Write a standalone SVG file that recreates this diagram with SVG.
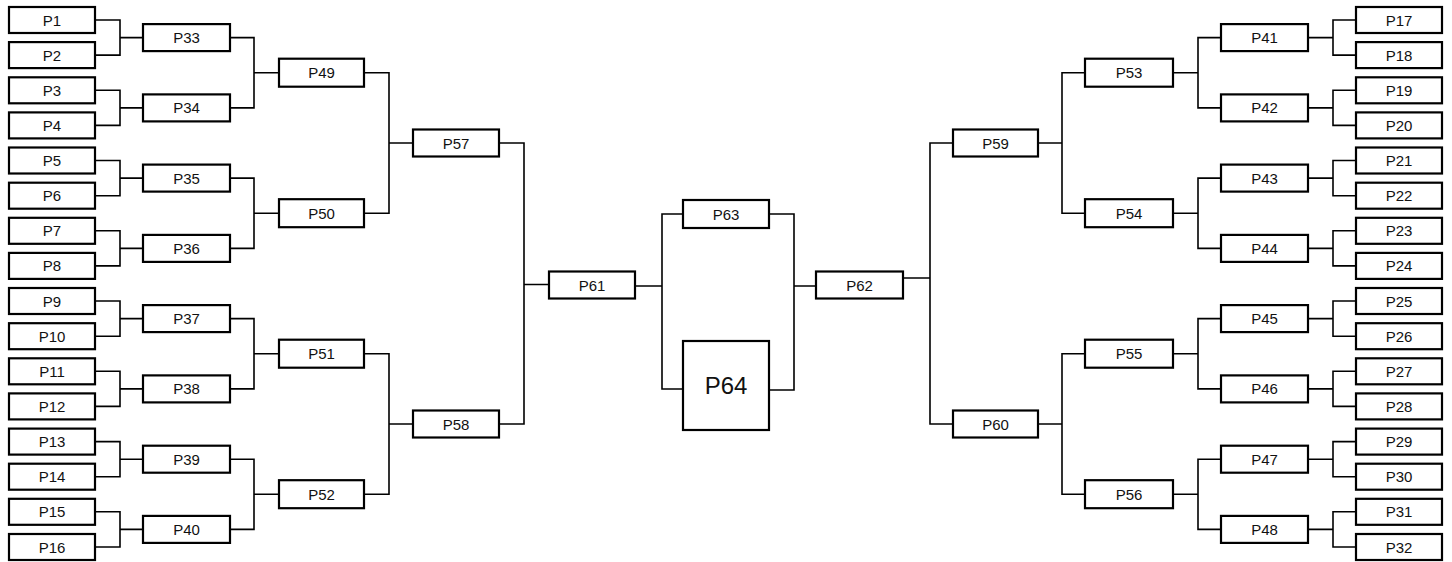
<svg xmlns="http://www.w3.org/2000/svg" width="1452" height="562" viewBox="0 0 1452 562">
<style>
.b{fill:#fff;stroke:#000;stroke-width:2.2}
.c{fill:none;stroke:#000;stroke-width:1.6}
text{font-family:"Liberation Sans",Arial,sans-serif;font-size:15px;text-anchor:middle;fill:#111}
.big{font-size:24px}
</style>
<rect width="1452" height="562" fill="#fff"/>
<g id="connectors" class="c">
<path d="M95,20 H120 V55.1 H95 M120,37.6 H143"/>
<path d="M95,90.3 H120 V125.4 H95 M120,107.9 H143"/>
<path d="M95,160.5 H120 V195.7 H95 M120,178.1 H143"/>
<path d="M95,230.8 H120 V265.9 H95 M120,248.4 H143"/>
<path d="M95,301 H120 V336.2 H95 M120,318.6 H143"/>
<path d="M95,371.3 H120 V406.4 H95 M120,388.9 H143"/>
<path d="M95,441.6 H120 V476.7 H95 M120,459.2 H143"/>
<path d="M95,511.8 H120 V547 H95 M120,529.4 H143"/>
<path d="M230,37.6 H254 V107.9 H230 M254,72.7 H279"/>
<path d="M230,178.1 H254 V248.4 H230 M254,213.2 H279"/>
<path d="M230,318.6 H254 V388.9 H230 M254,353.7 H279"/>
<path d="M230,459.2 H254 V529.4 H230 M254,494.2 H279"/>
<path d="M364,72.7 H389 V213.2 H364 M389,143 H413"/>
<path d="M364,353.7 H389 V494.2 H364 M389,424 H413"/>
<path d="M499,143 H524 V424 H499 M524,284.5 H549"/>
<path d="M635,286 H662 M683,214 H662 V389 H683"/>
<path d="M769,214 H794 V390 H769 M794,286 H816"/>
<path d="M903,278 H930 M953,143 H930 V424 H953"/>
<path d="M1038,143 H1062 M1085,72.7 H1062 V213.2 H1085"/>
<path d="M1038,424 H1062 M1085,353.7 H1062 V494.2 H1085"/>
<path d="M1173,72.7 H1198 M1221,37.6 H1198 V107.9 H1221"/>
<path d="M1173,213.2 H1198 M1221,178.1 H1198 V248.4 H1221"/>
<path d="M1173,353.7 H1198 M1221,318.6 H1198 V388.9 H1221"/>
<path d="M1173,494.2 H1198 M1221,459.2 H1198 V529.4 H1221"/>
<path d="M1308,37.6 H1333 M1356,20 H1333 V55.1 H1356"/>
<path d="M1308,107.9 H1333 M1356,90.3 H1333 V125.4 H1356"/>
<path d="M1308,178.1 H1333 M1356,160.5 H1333 V195.7 H1356"/>
<path d="M1308,248.4 H1333 M1356,230.8 H1333 V265.9 H1356"/>
<path d="M1308,318.6 H1333 M1356,301 H1333 V336.2 H1356"/>
<path d="M1308,388.9 H1333 M1356,371.3 H1333 V406.4 H1356"/>
<path d="M1308,459.2 H1333 M1356,441.6 H1333 V476.7 H1356"/>
<path d="M1308,529.4 H1333 M1356,511.8 H1333 V547 H1356"/>
</g>
<g id="P1"><rect class="b" x="9" y="7" width="86" height="26"/><text x="52" y="25.5">P1</text></g>
<g id="P2"><rect class="b" x="9" y="42.1" width="86" height="26"/><text x="52" y="60.6">P2</text></g>
<g id="P3"><rect class="b" x="9" y="77.3" width="86" height="26"/><text x="52" y="95.8">P3</text></g>
<g id="P4"><rect class="b" x="9" y="112.4" width="86" height="26"/><text x="52" y="130.9">P4</text></g>
<g id="P5"><rect class="b" x="9" y="147.5" width="86" height="26"/><text x="52" y="166">P5</text></g>
<g id="P6"><rect class="b" x="9" y="182.7" width="86" height="26"/><text x="52" y="201.2">P6</text></g>
<g id="P7"><rect class="b" x="9" y="217.8" width="86" height="26"/><text x="52" y="236.3">P7</text></g>
<g id="P8"><rect class="b" x="9" y="252.9" width="86" height="26"/><text x="52" y="271.4">P8</text></g>
<g id="P9"><rect class="b" x="9" y="288" width="86" height="26"/><text x="52" y="306.5">P9</text></g>
<g id="P10"><rect class="b" x="9" y="323.2" width="86" height="26"/><text x="52" y="341.7">P10</text></g>
<g id="P11"><rect class="b" x="9" y="358.3" width="86" height="26"/><text x="52" y="376.8">P11</text></g>
<g id="P12"><rect class="b" x="9" y="393.4" width="86" height="26"/><text x="52" y="411.9">P12</text></g>
<g id="P13"><rect class="b" x="9" y="428.6" width="86" height="26"/><text x="52" y="447.1">P13</text></g>
<g id="P14"><rect class="b" x="9" y="463.7" width="86" height="26"/><text x="52" y="482.2">P14</text></g>
<g id="P15"><rect class="b" x="9" y="498.8" width="86" height="26"/><text x="52" y="517.3">P15</text></g>
<g id="P16"><rect class="b" x="9" y="534" width="86" height="26"/><text x="52" y="552.5">P16</text></g>
<g id="P17"><rect class="b" x="1356" y="7" width="86" height="26"/><text x="1399" y="25.5">P17</text></g>
<g id="P18"><rect class="b" x="1356" y="42.1" width="86" height="26"/><text x="1399" y="60.6">P18</text></g>
<g id="P19"><rect class="b" x="1356" y="77.3" width="86" height="26"/><text x="1399" y="95.8">P19</text></g>
<g id="P20"><rect class="b" x="1356" y="112.4" width="86" height="26"/><text x="1399" y="130.9">P20</text></g>
<g id="P21"><rect class="b" x="1356" y="147.5" width="86" height="26"/><text x="1399" y="166">P21</text></g>
<g id="P22"><rect class="b" x="1356" y="182.7" width="86" height="26"/><text x="1399" y="201.2">P22</text></g>
<g id="P23"><rect class="b" x="1356" y="217.8" width="86" height="26"/><text x="1399" y="236.3">P23</text></g>
<g id="P24"><rect class="b" x="1356" y="252.9" width="86" height="26"/><text x="1399" y="271.4">P24</text></g>
<g id="P25"><rect class="b" x="1356" y="288" width="86" height="26"/><text x="1399" y="306.5">P25</text></g>
<g id="P26"><rect class="b" x="1356" y="323.2" width="86" height="26"/><text x="1399" y="341.7">P26</text></g>
<g id="P27"><rect class="b" x="1356" y="358.3" width="86" height="26"/><text x="1399" y="376.8">P27</text></g>
<g id="P28"><rect class="b" x="1356" y="393.4" width="86" height="26"/><text x="1399" y="411.9">P28</text></g>
<g id="P29"><rect class="b" x="1356" y="428.6" width="86" height="26"/><text x="1399" y="447.1">P29</text></g>
<g id="P30"><rect class="b" x="1356" y="463.7" width="86" height="26"/><text x="1399" y="482.2">P30</text></g>
<g id="P31"><rect class="b" x="1356" y="498.8" width="86" height="26"/><text x="1399" y="517.3">P31</text></g>
<g id="P32"><rect class="b" x="1356" y="534" width="86" height="26"/><text x="1399" y="552.5">P32</text></g>
<g id="P33"><rect class="b" x="143" y="24.1" width="87" height="27"/><text x="186.5" y="43.1">P33</text></g>
<g id="P34"><rect class="b" x="143" y="94.4" width="87" height="27"/><text x="186.5" y="113.4">P34</text></g>
<g id="P35"><rect class="b" x="143" y="164.6" width="87" height="27"/><text x="186.5" y="183.6">P35</text></g>
<g id="P36"><rect class="b" x="143" y="234.9" width="87" height="27"/><text x="186.5" y="253.9">P36</text></g>
<g id="P37"><rect class="b" x="143" y="305.1" width="87" height="27"/><text x="186.5" y="324.1">P37</text></g>
<g id="P38"><rect class="b" x="143" y="375.4" width="87" height="27"/><text x="186.5" y="394.4">P38</text></g>
<g id="P39"><rect class="b" x="143" y="445.7" width="87" height="27"/><text x="186.5" y="464.7">P39</text></g>
<g id="P40"><rect class="b" x="143" y="515.9" width="87" height="27"/><text x="186.5" y="534.9">P40</text></g>
<g id="P41"><rect class="b" x="1221" y="24.1" width="87" height="27"/><text x="1264.5" y="43.1">P41</text></g>
<g id="P42"><rect class="b" x="1221" y="94.4" width="87" height="27"/><text x="1264.5" y="113.4">P42</text></g>
<g id="P43"><rect class="b" x="1221" y="164.6" width="87" height="27"/><text x="1264.5" y="183.6">P43</text></g>
<g id="P44"><rect class="b" x="1221" y="234.9" width="87" height="27"/><text x="1264.5" y="253.9">P44</text></g>
<g id="P45"><rect class="b" x="1221" y="305.1" width="87" height="27"/><text x="1264.5" y="324.1">P45</text></g>
<g id="P46"><rect class="b" x="1221" y="375.4" width="87" height="27"/><text x="1264.5" y="394.4">P46</text></g>
<g id="P47"><rect class="b" x="1221" y="445.7" width="87" height="27"/><text x="1264.5" y="464.7">P47</text></g>
<g id="P48"><rect class="b" x="1221" y="515.9" width="87" height="27"/><text x="1264.5" y="534.9">P48</text></g>
<g id="P49"><rect class="b" x="279" y="58.7" width="85" height="28"/><text x="321.5" y="78.2">P49</text></g>
<g id="P50"><rect class="b" x="279" y="199.2" width="85" height="28"/><text x="321.5" y="218.7">P50</text></g>
<g id="P51"><rect class="b" x="279" y="339.7" width="85" height="28"/><text x="321.5" y="359.2">P51</text></g>
<g id="P52"><rect class="b" x="279" y="480.2" width="85" height="28"/><text x="321.5" y="499.7">P52</text></g>
<g id="P53"><rect class="b" x="1085" y="58.7" width="88" height="28"/><text x="1129" y="78.2">P53</text></g>
<g id="P54"><rect class="b" x="1085" y="199.2" width="88" height="28"/><text x="1129" y="218.7">P54</text></g>
<g id="P55"><rect class="b" x="1085" y="339.7" width="88" height="28"/><text x="1129" y="359.2">P55</text></g>
<g id="P56"><rect class="b" x="1085" y="480.2" width="88" height="28"/><text x="1129" y="499.7">P56</text></g>
<g id="P57"><rect class="b" x="413" y="129.5" width="86" height="27"/><text x="456" y="148.5">P57</text></g>
<g id="P58"><rect class="b" x="413" y="410.5" width="86" height="27"/><text x="456" y="429.5">P58</text></g>
<g id="P59"><rect class="b" x="953" y="129.5" width="85" height="27"/><text x="995.5" y="148.5">P59</text></g>
<g id="P60"><rect class="b" x="953" y="410.5" width="85" height="27"/><text x="995.5" y="429.5">P60</text></g>
<g id="P61"><rect class="b" x="549" y="271.5" width="86" height="27"/><text x="592" y="290.5">P61</text></g>
<g id="P62"><rect class="b" x="816" y="271.5" width="87" height="27"/><text x="859.5" y="290.5">P62</text></g>
<g id="P63"><rect class="b" x="683" y="200" width="86" height="28"/><text x="726" y="219.5">P63</text></g>
<g id="P64"><rect class="b" x="683" y="341" width="86" height="89"/><text class="big" x="726" y="394">P64</text></g>
</svg>
